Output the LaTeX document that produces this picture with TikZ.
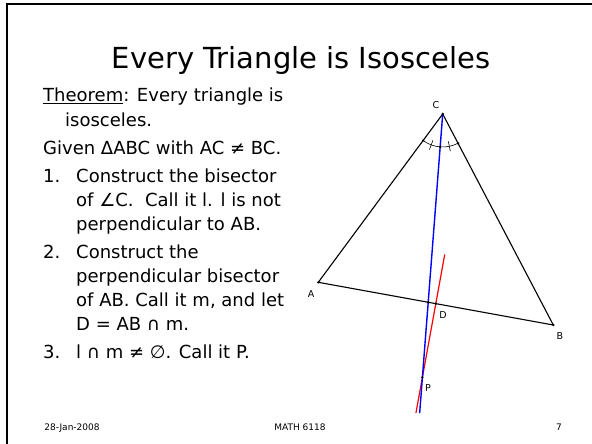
\documentclass[tikz,border=0pt]{standalone}
\usepackage{fontspec}
\setmainfont{DejaVu Sans}
\usetikzlibrary{calc}

\begin{document}
\begin{tikzpicture}[x=1pt,y=1pt,
      txt/.style={anchor=base west,inner sep=0pt,font=\fontsize{18}{20}\selectfont},
      lbl/.style={inner sep=0pt,font=\fontsize{9.5}{11}\selectfont},
      foot/.style={anchor=base,inner sep=0pt,font=\fontsize{9}{11}\selectfont},
      dot/.style={circle,fill=black,inner sep=0pt,minimum size=2.6pt}
    ]
      \useasboundingbox (0,0) rectangle (592,-444);
      \draw[line width=2pt] (7,-444) -- (7,-4.3) -- (592,-4.3);
      % title and text
      \node[anchor=base,inner sep=0pt,font=\fontsize{29}{34}\selectfont] (title) at (301,-69) {Every Triangle is Isosceles};
      \node[txt] (thm) at (43,-102) {\underline{Theorem}: Every triangle is};
      \node[txt] (thm2) at (65,-126) {isosceles.};
      \node[txt] (given) at (43,-154) {Given ΔABC with AC ≠ BC.};
      \node[txt] (n1) at (43,-182) {1.};
      \node[txt] (s1a) at (76,-182) {Construct the bisector};
      \node[txt] (s1b) at (76,-206) {of ∠C.\ \ Call it l. l is not};
      \node[txt] (s1c) at (76,-230) {perpendicular to AB.};
      \node[txt] (n2) at (43,-258) {2.};
      \node[txt] (s2a) at (76,-258) {Construct the};
      \node[txt] (s2b) at (76,-282) {perpendicular bisector};
      \node[txt] (s2c) at (76,-306) {of AB. Call it m, and let};
      \node[txt] (s2d) at (76,-330) {D = AB ∩ m.};
      \node[txt] (n3) at (43,-358) {3.};
      \node[txt] (s3a) at (76,-358) {l ∩ m ≠ ∅. Call it P.};
      \node[foot] (date) at (72,-430) {28-Jan-2008};
      \node[foot] (course) at (300,-430) {MATH 6118};
      \node[foot] (page) at (559,-430) {7};
      % triangle
      \coordinate (A) at (318.3,-282.3);
      \coordinate (B) at (553.3,-325);
      \coordinate (C) at (442.7,-114);
      \coordinate (D) at ($(A)!0.5!(B)$);
      \coordinate (a1) at ($(C)!33pt!(A)$);
      \coordinate (a2) at ($(C)!33pt!(B)$);
      \coordinate (mid) at ($(a1)!0.5!(a2)$);
      \coordinate (am) at ($(C)!33pt!(mid)$);
      \coordinate (lend) at ($(C)!300pt!(mid)$);
      \coordinate (mtop) at ($(D)!50pt!90:(B)$);
      \coordinate (mbot) at ($(D)!111pt!-90:(B)$);
      \coordinate (X) at (intersection of A--B and C--lend);
      \coordinate (P) at (intersection of C--lend and mtop--mbot);
      \draw[line width=1.1pt] (A) -- (B) -- (C) -- cycle;
      \draw[line width=0.6pt] (a1) arc[start angle=233.53,end angle=297.66,radius=33];
      \foreach \a in {249.6,281.6}
        \draw[line width=0.6pt] (C) ++(\a:28) -- ++(\a:10);
      \draw[red,line width=1.2pt] (mtop) -- (mbot);
      \draw[blue,line width=1.4pt] (C) -- (lend);
      \foreach \p in {A,B,C,D,X,P,a1,a2,am}
        \node[dot] at (\p) {};
      \node[lbl] (lC) at (436,-105) {C};
      \node[lbl] (lA) at (311,-294) {A};
      \node[lbl] (lD) at (443,-315) {D};
      \node[lbl] (lB) at (560,-336) {B};
      \node[lbl] (lP) at (428,-388) {P};
    \end{tikzpicture}
\end{document}
